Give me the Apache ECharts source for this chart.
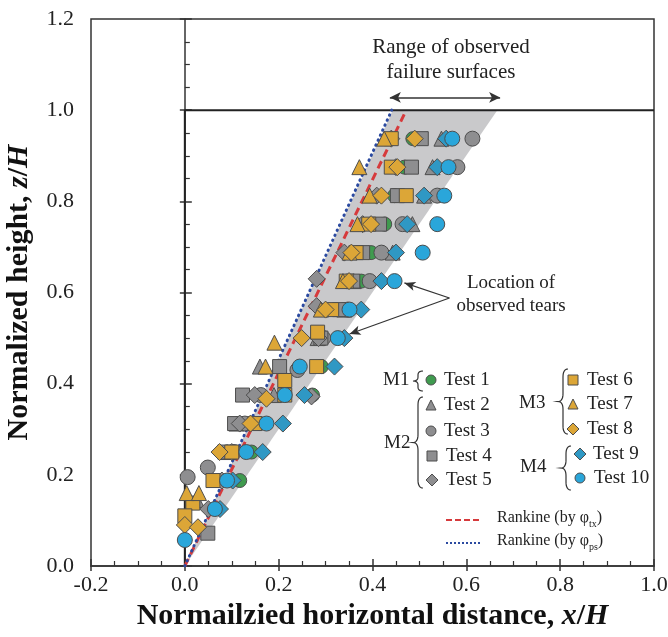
<!DOCTYPE html>
<html>
<head>
<meta charset="utf-8">
<title>Normalized failure surface</title>
<script src="https://cdn.jsdelivr.net/npm/echarts@6/dist/echarts.min.js"></script>
<style>
  html, body { margin: 0; padding: 0; background: #fff; }
  #main { width: 668px; height: 637px; }
</style>
</head>
<body>
<div id="main"></div>
<script>
// axis ticks
var xTicks = [-0.2, 0.0, 0.2, 0.4, 0.6, 0.8, 1.0];
var yTicks = [0.0, 0.2, 0.4, 0.6, 0.8, 1.0, 1.2];

// [x/H, z/H]
var test1 = [[0.486,0.9375],[0.468,0.875],[0.447,0.8125],[0.426,0.75],[0.397,0.6875],[0.376,0.625],[0.34,0.5625],[0.29,0.5],[0.291,0.4375],[0.272,0.375],[0.16,0.3125],[0.142,0.25],[0.117,0.1875]];
var test2 = [[0.547,0.9375],[0.528,0.875],[0.51,0.8125],[0.485,0.75],[0.443,0.6875],[0.36,0.625],[0.34,0.5625],[0.283,0.5],[0.16,0.4375],[0.19,0.375],[0.11,0.3125],[0.09,0.25],[0.025,0.145]];
var test3 = [[0.613,0.9375],[0.581,0.875],[0.538,0.8125],[0.464,0.75],[0.419,0.6875],[0.394,0.625],[0.347,0.5625],[0.295,0.5],[0.24,0.43],[0.162,0.375],[0.128,0.3125],[0.105,0.25],[0.049,0.216],[0.006,0.195]];
var test4 = [[0.504,0.9375],[0.483,0.875],[0.453,0.8125],[0.415,0.75],[0.379,0.6875],[0.358,0.625],[0.33,0.5625],[0.29,0.5],[0.202,0.4375],[0.123,0.375],[0.106,0.3125],[0.085,0.25],[0.049,0.072]];
var test5 = [[0.44,0.9375],[0.45,0.875],[0.409,0.8125],[0.379,0.75],[0.34,0.6875],[0.281,0.63],[0.281,0.57],[0.285,0.5],[0.149,0.375],[0.27,0.372],[0.117,0.3125],[0.1,0.25],[0.079,0.1875],[0.05,0.125]];
var test6 = [[0.44,0.9375],[0.44,0.875],[0.472,0.8125],[0.392,0.75],[0.365,0.6875],[0.344,0.625],[0.313,0.5625],[0.283,0.513],[0.281,0.4375],[0.213,0.407],[0.213,0.375],[0.149,0.3125],[0.1,0.25],[0.06,0.1875],[0.017,0.138],[0.0,0.11]];
var test7 = [[0.425,0.9375],[0.372,0.875],[0.394,0.8125],[0.368,0.75],[0.351,0.6875],[0.337,0.625],[0.29,0.5625],[0.191,0.49],[0.172,0.4375],[0.004,0.16],[0.03,0.16]];
var test8 = [[0.49,0.9375],[0.453,0.875],[0.419,0.8125],[0.397,0.75],[0.355,0.6875],[0.35,0.625],[0.3,0.5625],[0.249,0.5],[0.174,0.367],[0.14,0.3125],[0.074,0.25],[0.0,0.09],[0.028,0.085]];
var test9 = [[0.557,0.9375],[0.538,0.875],[0.51,0.8125],[0.474,0.75],[0.45,0.6875],[0.419,0.625],[0.376,0.5625],[0.34,0.5],[0.319,0.4375],[0.255,0.375],[0.209,0.3125],[0.166,0.25],[0.102,0.1875],[0.075,0.125]];
var test10 = [[0.57,0.9375],[0.562,0.875],[0.553,0.8125],[0.538,0.75],[0.507,0.6875],[0.447,0.625],[0.351,0.5625],[0.326,0.5],[0.245,0.4375],[0.213,0.375],[0.174,0.3125],[0.131,0.25],[0.09,0.1875],[0.064,0.125],[0.0,0.057]];

// lines and shaded range
var rankineTx = [[0, 0], [0.472, 1.0]];
var rankinePs = [[0, 0], [0.441, 1.0]];
var band = [[0, 0], [0.443, 1.0], [0.666, 1.0]];
var wall = [[0, 0], [0, 1.0], [1.0, 1.0]];
var rangeArrow = [[0.437, 1.028], [0.672, 1.028]];
var tearFrom = [0.564, 0.588];
var tearTo = [[0.468, 0.621], [0.351, 0.509]];

var SERIF = 'Liberation Serif';
var EDGE = '#4d4d4d';
var GREEN = '#3f9b4f', GRAY = '#8e8e90', GOLD = '#dca637', BLUE_D = '#2f98c4', BLUE_C = '#2aa6da';

var tests = [
    { name: 'Test 1', data: test1, symbol: 'circle', size: 14, color: GREEN },
    { name: 'Test 2', data: test2, symbol: 'triangle', size: 15, color: GRAY },
    { name: 'Test 3', data: test3, symbol: 'circle', size: 15, color: GRAY },
    { name: 'Test 4', data: test4, symbol: 'rect', size: 14, color: GRAY },
    { name: 'Test 5', data: test5, symbol: 'diamond', size: 17, color: GRAY },
    { name: 'Test 6', data: test6, symbol: 'rect', size: 14, color: GOLD },
    { name: 'Test 7', data: test7, symbol: 'triangle', size: 15, color: GOLD },
    { name: 'Test 8', data: test8, symbol: 'diamond', size: 17, color: GOLD },
    { name: 'Test 9', data: test9, symbol: 'diamond', size: 17, color: BLUE_D },
    { name: 'Test 10', data: test10, symbol: 'circle', size: 15, color: BLUE_C }
];

var chart = echarts.init(document.getElementById('main'));

function txt(x, y, s, size, extra) {
    var st = { text: s, font: size + 'px "' + SERIF + '"', fill: '#222',
        align: 'left', verticalAlign: 'middle', textAlign: 'left', textVerticalAlign: 'middle' };
    if (extra) { for (var k in extra) st[k] = extra[k]; }
    return { type: 'text', x: x, y: y, z: 10, style: st };
}

// legend marker in pixels
function marker(shape, color, cx, cy, s) {
    var st = { fill: color, stroke: EDGE, lineWidth: 1 };
    var h = s / 2;
    if (shape === 'circle') return { type: 'circle', z: 10, shape: { cx: cx, cy: cy, r: h }, style: st };
    if (shape === 'rect') return { type: 'rect', z: 10, shape: { x: cx - h, y: cy - h, width: s, height: s }, style: st };
    if (shape === 'triangle') return { type: 'polygon', z: 10, shape: { points: [[cx, cy - h], [cx + h, cy + h], [cx - h, cy + h]] }, style: st };
    return { type: 'polygon', z: 10, shape: { points: [[cx, cy - h - 1], [cx + h + 1, cy], [cx, cy + h + 1], [cx - h - 1, cy]] }, style: st };
}

// left curly brace as a polyline
function quad(p0, p1, p2, out) {
    for (var t = 0; t <= 1.0001; t += 0.125) {
        var a = (1 - t) * (1 - t), b = 2 * (1 - t) * t, c = t * t;
        out.push([a * p0[0] + b * p1[0] + c * p2[0], a * p0[1] + b * p1[1] + c * p2[1]]);
    }
}
function brace(x, y1, y2) {
    var m = (y1 + y2) / 2, w = 5, r = Math.min(8, (y2 - y1) / 5);
    var pts = [];
    quad([x + w, y1], [x, y1], [x, y1 + r], pts);
    quad([x, m - r], [x, m], [x - w, m], pts);
    quad([x - w, m], [x, m], [x, m + r], pts);
    quad([x, y2 - r], [x, y2], [x + w, y2], pts);
    return { type: 'polyline', z: 10, shape: { points: pts }, style: { fill: null, stroke: '#333', lineWidth: 1.2 } };
}

var legendPos = [
    [431, 380, 444], [431, 405, 444], [431, 431, 444], [432, 456, 446], [432, 480, 446],
    [573, 380, 587], [573, 404, 587], [573, 429, 587], [580, 454, 593], [580, 478, 594]
];

var graphic = [];
tests.forEach(function (t, i) {
    var p = legendPos[i];
    graphic.push(marker(t.symbol, t.color, p[0], p[1], 10));
    graphic.push(txt(p[2], p[1], t.name, 19));
});
graphic.push(txt(383, 380, 'M1', 19));
graphic.push(txt(384, 443, 'M2', 19));
graphic.push(txt(519, 403, 'M3', 19));
graphic.push(txt(520, 467, 'M4', 19));
graphic.push(brace(418, 371, 391));
graphic.push(brace(418, 397, 488));
graphic.push(brace(563, 369, 434));
graphic.push(brace(566, 446, 490));

var sub = { fontSize: 10, fontFamily: SERIF, fill: '#222', color: '#222', verticalAlign: 'top', padding: [9, 0, 0, 0], lineHeight: 10 };
var base = { fontSize: 16, fontFamily: SERIF, fill: '#222', color: '#222', verticalAlign: 'top', lineHeight: 18 };
graphic.push({ type: 'line', z: 10, shape: { x1: 446, y1: 520, x2: 480, y2: 520 }, style: { stroke: '#d63a3c', lineWidth: 2, lineDash: [6, 3] } });
graphic.push({ type: 'line', z: 10, shape: { x1: 446, y1: 543, x2: 480, y2: 543 }, style: { stroke: '#2b4aa0', lineWidth: 2, lineDash: [2, 2] } });
graphic.push({ type: 'text', x: 497, y: 510, z: 10, style: { text: '{b|Rankine (by φ}{s|tx}{b|)}', rich: { b: base, s: sub } } });
graphic.push({ type: 'text', x: 497, y: 533, z: 10, style: { text: '{b|Rankine (by φ}{s|ps}{b|)}', rich: { b: base, s: sub } } });

graphic.push(txt(451, 47, 'Range of observed', 21, { align: 'center', textAlign: 'center' }));
graphic.push(txt(451, 72, 'failure surfaces', 21, { align: 'center', textAlign: 'center' }));
graphic.push(txt(511, 283, 'Location of', 19, { align: 'center', textAlign: 'center' }));
graphic.push(txt(511, 306, 'observed tears', 19, { align: 'center', textAlign: 'center' }));

var series = [
    {
        type: 'custom', z: 1, silent: true,
        data: [band[0]],
        renderItem: function (params, api) {
            return {
                type: 'polygon',
                shape: { points: band.map(function (p) { return api.coord(p); }) },
                style: { fill: '#c9c9cb' }
            };
        }
    },
    {
        type: 'line', z: 2, silent: true, data: wall, showSymbol: false,
        lineStyle: { color: '#222', width: 2 }
    },
    {
        type: 'line', z: 3, silent: true, data: rankineTx, showSymbol: false,
        lineStyle: { color: '#d63a3c', width: 3, type: [8, 5] }
    },
    {
        type: 'line', z: 3, silent: true, data: rankinePs, showSymbol: false,
        lineStyle: { color: '#2b4aa0', width: 3, type: [0.5, 5], cap: 'round' }
    },
    {
        type: 'line', z: 3, silent: true, data: [], showSymbol: false,
        markLine: {
            silent: true, animation: false,
            symbol: ['arrow', 'arrow'], symbolSize: [8, 11],
            label: { show: false },
            lineStyle: { color: '#333', width: 1.5, type: 'solid' },
            data: [[{ coord: rangeArrow[0] }, { coord: rangeArrow[1] }]]
        }
    },
    {
        type: 'line', z: 5, silent: true, data: [], showSymbol: false,
        markLine: {
            silent: true, animation: false,
            symbol: ['none', 'arrow'], symbolSize: [7, 11],
            label: { show: false },
            lineStyle: { color: '#333', width: 1.2, type: 'solid' },
            data: tearTo.map(function (p) { return [{ coord: tearFrom }, { coord: p }]; })
        }
    }
];
tests.forEach(function (t) {
    series.push({
        name: t.name, type: 'scatter', z: 4, data: t.data,
        symbol: t.symbol, symbolSize: t.size,
        itemStyle: { color: t.color, borderColor: EDGE, borderWidth: 1, opacity: 1 }
    });
});

var axisFont = { fontFamily: SERIF, fontSize: 22, color: '#222' };
var titleRich = { i: { fontFamily: SERIF, fontSize: 30, fontWeight: 'bold', fontStyle: 'italic', color: '#111' } };

var option = {
    animation: false,
    backgroundColor: '#fff',
    grid: {
        left: 91, right: 14, top: 19, bottom: 71, containLabel: false, outerBoundsMode: 'none',
        show: true, borderColor: '#333', borderWidth: 1.5
    },
    xAxis: [
        {
            type: 'value', min: xTicks[0], max: xTicks[xTicks.length - 1], interval: 0.2,
            splitLine: { show: false },
            axisLine: { lineStyle: { color: '#333', width: 1.5 } },
            axisTick: { inside: true, length: 7, lineStyle: { color: '#333', width: 1.5 } },
            minorTick: { show: true, splitNumber: 4, length: 5, lineStyle: { color: '#333', width: 1.2 } },
            axisLabel: Object.assign({ margin: 8, formatter: function (v) { return v.toFixed(1); } }, axisFont),
            name: 'Normailzied horizontal distance, {i|x}/{i|H}',
            nameLocation: 'middle', nameGap: 32,
            nameTextStyle: { fontFamily: SERIF, fontSize: 30, fontWeight: 'bold', color: '#111', rich: titleRich }
        },
        {
            type: 'value', min: xTicks[0], max: xTicks[xTicks.length - 1], interval: 0.2, position: 'bottom',
            splitLine: { show: false }, axisLine: { show: false }, axisLabel: { show: false },
            axisTick: { inside: false, length: 5, lineStyle: { color: '#333', width: 1.5 } }
        }
    ],
    yAxis: [
        {
            type: 'value', min: yTicks[0], max: yTicks[yTicks.length - 1], interval: 0.2,
            splitLine: { show: false },
            axisLine: { lineStyle: { color: '#333', width: 1.5 } },
            axisTick: { inside: true, length: 7, lineStyle: { color: '#333', width: 1.5 } },
            minorTick: { show: true, splitNumber: 4, length: 5, lineStyle: { color: '#333', width: 1.2 } },
            axisLabel: Object.assign({ margin: 17, formatter: function (v) { return v.toFixed(1); } }, axisFont),
            name: 'Normalized height, {i|z}/{i|H}',
            nameLocation: 'middle', nameGap: 57, nameRotate: 90,
            nameTextStyle: { fontFamily: SERIF, fontSize: 30, fontWeight: 'bold', color: '#111', rich: titleRich }
        },
        {
            type: 'value', min: yTicks[0], max: yTicks[yTicks.length - 1], interval: 0.2, position: 'left',
            splitLine: { show: false }, axisLine: { show: false }, axisLabel: { show: false },
            axisTick: { inside: false, length: 5, lineStyle: { color: '#333', width: 1.5 } }
        }
    ],
    graphic: graphic,
    series: series
};

chart.setOption(option);
</script>
</body>
</html>
